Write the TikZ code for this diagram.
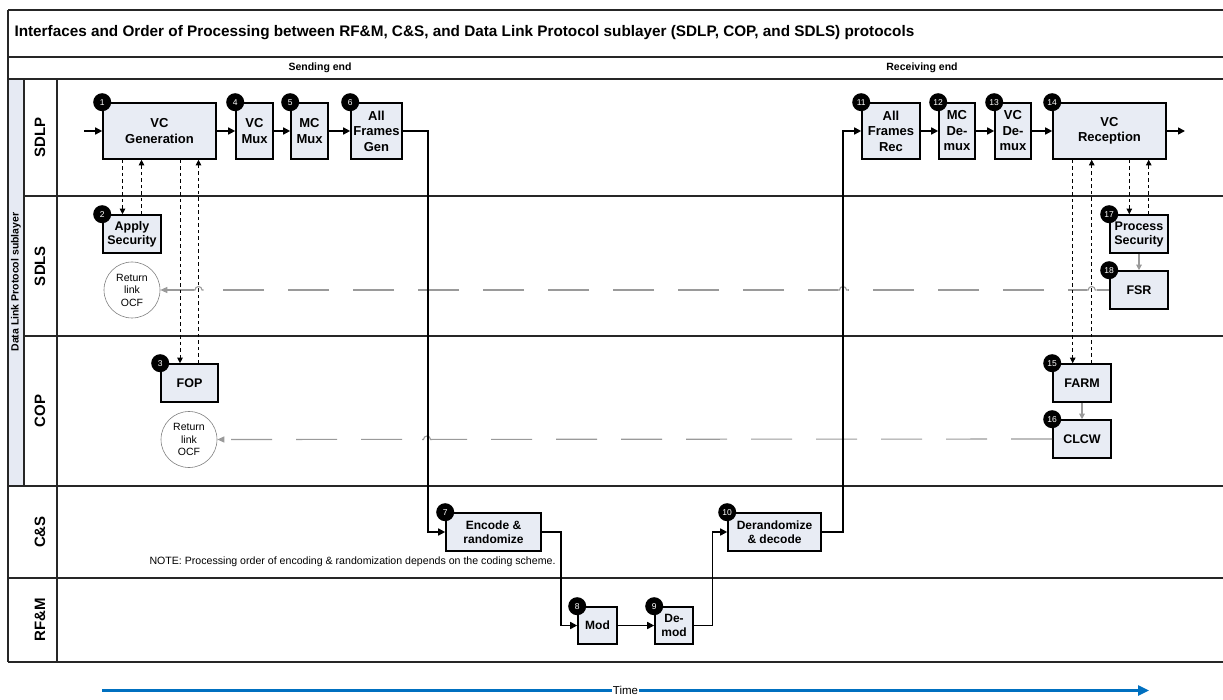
\documentclass[tikz,border=0pt]{standalone}
\usepackage{fontspec}
\setmainfont{Liberation Sans}
\usetikzlibrary{arrows.meta}
\definecolor{boxfill}{HTML}{E8ECF4}
\definecolor{bandfill}{HTML}{E6EAF3}
\definecolor{ocfgray}{HTML}{9A9A9A}
\definecolor{timeblue}{HTML}{0070C0}
\begin{document}
\begin{tikzpicture}[x=1pt,y=-1pt,
  box/.style={draw=black, line width=1.6pt, fill=boxfill, align=center, inner sep=0pt,
    font=\fontsize{12.5}{14}\selectfont\bfseries},
  bigbox/.style={box, font=\fontsize{13}{15.5}\selectfont\bfseries},
  csbox/.style={box, font=\fontsize{12}{14}\selectfont\bfseries},
  num/.style={circle, fill=black, text=white, minimum size=18pt, inner sep=0pt,
    font=\fontsize{8.5}{9}\selectfont},
  conn/.style={line width=1.6pt, -{Triangle[length=7pt,width=7pt]}},
  dsh/.style={line width=0.8pt, dash pattern=on 3.5pt off 3pt, -{Triangle[length=5.5pt,width=5.5pt]}},
  garrow/.style={draw=ocfgray, line width=1.2pt, -{Triangle[length=5.5pt,width=5.5pt]}},
  gdash/.style={draw=ocfgray, line width=1.1pt, dash pattern=on 41pt off 24pt},
  ocf/.style={circle, draw=gray, line width=0.6pt, minimum size=56pt, inner sep=0pt, align=center,
    font=\fontsize{10.5}{12.5}\selectfont},
  lane/.style={line width=1.3pt, draw=black!85},
  lanelbl/.style={rotate=90, font=\fontsize{15}{16}\selectfont\bfseries},
  hdr/.style={font=\fontsize{10.5}{12}\selectfont\bfseries},
]
\useasboundingbox (0,0) rectangle (1223,700);

% ---------- lanes ----------
\fill[bandfill] (8,79) rectangle (24,486);
\draw[lane] (8,10) -- (1223,10);
\draw[lane] (8,10) -- (8,662);
\draw[lane] (8,57) -- (1223,57);
\draw[lane] (8,79) -- (1223,79);
\draw[lane] (24,79) -- (24,486);
\draw[lane] (57,79) -- (57,662);
\draw[lane] (24,196) -- (1223,196);
\draw[lane] (24,336) -- (1223,336);
\draw[lane] (8,486) -- (1223,486);
\draw[lane] (8,578) -- (1223,578);
\draw[lane] (8,662) -- (1223,662);

\node[anchor=west, font=\fontsize{15.3}{17}\selectfont\bfseries] (title) at (11,33)
  {Interfaces and Order of Processing between RF\&M, C\&S, and Data Link Protocol sublayer (SDLP, COP, and SDLS) protocols};
\node[hdr] (send) at (320,68) {Sending end};
\node[hdr] (recv) at (922,68) {Receiving end};

\node[rotate=90, font=\fontsize{10.5}{12}\selectfont\bfseries] (dlps) at (16,282) {Data Link Protocol sublayer};
\node[lanelbl] (lsdlp) at (40,137.5) {SDLP};
\node[lanelbl] (lsdls) at (40,266) {SDLS};
\node[lanelbl] (lcop) at (40,411) {COP};
\node[lanelbl] (lcs) at (40,532) {C\&S};
\node[lanelbl] (lrfm) at (40,620) {RF\&M};

% ---------- boxes ----------
\node[bigbox, minimum width=113pt, minimum height=56pt] (vcgen) at (159.5,131) {VC\\Generation};
\node[bigbox, minimum width=37pt, minimum height=56pt] (vcmux) at (254.5,131) {VC\\Mux};
\node[bigbox, minimum width=37pt, minimum height=56pt] (mcmux) at (309.5,131) {MC\\Mux};
\node[bigbox, minimum width=51pt, minimum height=56pt] (afg) at (376.5,131) {All\\Frames\\Gen};
\node[bigbox, minimum width=58pt, minimum height=56pt] (afr) at (891,131) {All\\Frames\\Rec};
\node[bigbox, minimum width=36pt, minimum height=56pt] (mcdemux) at (957,131) {MC\\De-\\mux};
\node[bigbox, minimum width=36pt, minimum height=56pt] (vcdemux) at (1013,131) {VC\\De-\\mux};
\node[bigbox, minimum width=113pt, minimum height=56pt] (vcrec) at (1109.5,131) {VC\\Reception};

\node[box, minimum width=58pt, minimum height=38pt] (apply) at (132,234) {Apply\\Security};
\node[box, minimum width=57pt, minimum height=38pt] (fop) at (189.5,383) {FOP};
\node[box, minimum width=58pt, minimum height=38pt] (procsec) at (1139,234) {Process\\Security};
\node[box, minimum width=58pt, minimum height=38pt] (fsr) at (1139,290) {FSR};
\node[box, minimum width=58pt, minimum height=38pt] (farm) at (1082,383) {FARM};
\node[box, minimum width=58pt, minimum height=38pt] (clcw) at (1082,439) {CLCW};

\node[csbox, minimum width=95pt, minimum height=38pt] (encode) at (493.5,532) {Encode \&\\randomize};
\node[csbox, minimum width=39pt, minimum height=37pt] (mod) at (597.5,625.5) {Mod};
\node[csbox, minimum width=38pt, minimum height=37pt] (demod) at (674,625.5) {De-\\mod};
\node[csbox, minimum width=93pt, minimum height=38pt] (derand) at (774.5,532) {Derandomize\\\& decode};

\node[ocf] (ocf1) at (132,290) {Return\\link\\OCF};
\node[ocf] (ocf2) at (189,439.5) {Return\\link\\OCF};

\node[anchor=west, font=\fontsize{10.6}{12}\selectfont] (note) at (146,562)
  {NOTE: Processing order of encoding \& randomization depends on the coding scheme.};

% ---------- number badges ----------
\node[num] (n1) at (vcgen.north west) {1};
\node[num] (n2) at (apply.north west) {2};
\node[num] (n3) at (fop.north west) {3};
\node[num] (n4) at (vcmux.north west) {4};
\node[num] (n5) at (mcmux.north west) {5};
\node[num] (n6) at (afg.north west) {6};
\node[num] (n7) at (encode.north west) {7};
\node[num] (n8) at (mod.north west) {8};
\node[num] (n9) at (demod.north west) {9};
\node[num] (n10) at (derand.north west) {10};
\node[num] (n11) at (afr.north west) {11};
\node[num] (n12) at (mcdemux.north west) {12};
\node[num] (n13) at (vcdemux.north west) {13};
\node[num] (n14) at (vcrec.north west) {14};
\node[num] (n15) at (farm.north west) {15};
\node[num] (n16) at (clcw.north west) {16};
\node[num] (n17) at (procsec.north west) {17};
\node[num] (n18) at (fsr.north west) {18};

% ---------- return link OCF (grey dashed) ----------
\draw[gdash, -{Triangle[length=7pt,width=6pt]}] (fsr.west) -- (ocf1.east);
\draw[gdash, -{Triangle[length=7pt,width=6pt]}] (clcw.west) -- (ocf2.east);
\foreach \x/\y in {1091.7/290, 843/290, 198.5/290, 427/439.5}{
  \fill[white] (\x-5,\y-1.5) rectangle (\x+5,\y+1.5);
  \draw[ocfgray, line width=1.1pt] (\x-5,\y) -- (\x-3.5,\y) arc[start angle=180, end angle=0, radius=3.5pt] -- (\x+5,\y);
}
\draw[garrow] (procsec.south) -- (fsr.north);
\draw[garrow] (farm.south) -- (clcw.north);

% ---------- data path ----------
\coordinate (in) at (84,131);
\coordinate (out) at (1185,131);
\draw[conn] (in) -- (vcgen.west);
\draw[conn] (vcgen.east) -- (vcmux.west);
\draw[conn] (vcmux.east) -- (mcmux.west);
\draw[conn] (mcmux.east) -- (afg.west);
\draw[conn] (afg.east) -- ++(25,0) |- (encode.west);
\draw[conn] (encode.east) -- ++(19,0) |- (mod.west);
\draw[conn] (mod.east) -- (demod.west);
\draw[conn] (demod.east) -- ++(18.5,0) |- (derand.west);
\draw[conn] (derand.east) -- ++(21,0) |- (afr.west);
\draw[conn] (afr.east) -- (mcdemux.west);
\draw[conn] (mcdemux.east) -- (vcdemux.west);
\draw[conn] (vcdemux.east) -- (vcrec.west);
\draw[conn] (vcrec.east) -- (out);

% ---------- dashed service calls ----------
\coordinate (xa) at (122.5,0);
\coordinate (xb) at (141.5,0);
\coordinate (xc) at (180,0);
\coordinate (xd) at (198.5,0);
\coordinate (xe) at (1072.7,0);
\coordinate (xf) at (1091.7,0);
\coordinate (xg) at (1129.3,0);
\coordinate (xh) at (1148.7,0);
\draw[dsh] (vcgen.south -| xa) -- (apply.north -| xa);
\draw[dsh] (apply.north -| xb) -- (vcgen.south -| xb);
\draw[dsh] (vcgen.south -| xc) -- (fop.north -| xc);
\draw[dsh] (fop.north -| xd) -- (vcgen.south -| xd);
\draw[dsh] (vcrec.south -| xe) -- (farm.north -| xe);
\draw[dsh] (farm.north -| xf) -- (vcrec.south -| xf);
\draw[dsh] (vcrec.south -| xg) -- (procsec.north -| xg);
\draw[dsh] (procsec.north -| xh) -- (vcrec.south -| xh);

% ---------- time axis ----------
\coordinate (t0) at (102,690.5);
\coordinate (t1) at (1149,690.5);
\draw[timeblue, line width=2.4pt, -{Triangle[length=11pt,width=10pt]}] (t0) -- (t1)
  node[midway, fill=white, text=black, inner sep=1pt, font=\fontsize{11.5}{12}\selectfont] (timelbl) {Time};
\end{tikzpicture}
\end{document}
